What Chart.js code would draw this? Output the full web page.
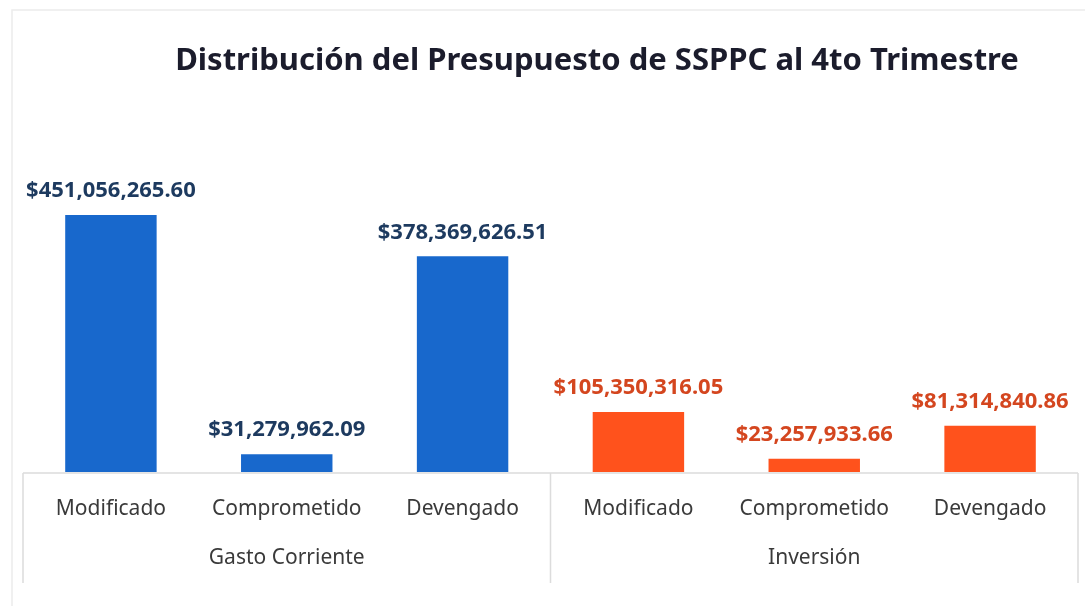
<!DOCTYPE html>
<html lang="es">
<head>
<meta charset="utf-8">
<title>Distribución del Presupuesto de SSPPC</title>
<script src="https://cdn.jsdelivr.net/npm/chart.js@4"></script>
<style>
  html, body { margin: 0; padding: 0; background: #fff; }
  #wrap { width: 1085px; height: 606px; position: relative; }
</style>
</head>
<body>
<div id="wrap"><canvas id="budgetChart"></canvas></div>
<script>
// Datos
const chartTitle = 'Distribución del Presupuesto de SSPPC al 4to Trimestre';
const categories = ['Modificado', 'Comprometido', 'Devengado', 'Modificado', 'Comprometido', 'Devengado'];
const groups = ['Gasto Corriente', 'Inversión'];
const values = [451056265.60, 31279962.09, 378369626.51, 105350316.05, 23257933.66, 81314840.86];
const groupOfBar = [0, 0, 0, 1, 1, 1];

const barColors = ['#1868cc', '#ff521c'];
const labelColors = ['#1d3a5f', '#d4461f'];
const lineColor = '#dcdcdc';

const formatMoney = v => '$' + v.toLocaleString('en-US', { minimumFractionDigits: 2, maximumFractionDigits: 2 });

// Marco tenue alrededor del grafico
const outerFrame = {
  id: 'outerFrame',
  beforeDraw(chart) {
    const ctx = chart.ctx;
    ctx.save();
    ctx.strokeStyle = '#ececec';
    ctx.lineWidth = 1.5;
    ctx.beginPath();
    ctx.moveTo(12, chart.height);
    ctx.lineTo(12, 10);
    ctx.lineTo(chart.width, 10);
    ctx.stroke();
    ctx.restore();
  }
};

// Titulo (desplazado como en el original)
const titlePlugin = {
  id: 'titlePlugin',
  afterDraw(chart) {
    const ctx = chart.ctx;
    ctx.save();
    ctx.font = 'bold 31px "Noto Sans"';
    ctx.fillStyle = '#1b1c2c';
    ctx.textAlign = 'center';
    ctx.textBaseline = 'middle';
    ctx.fillText(chartTitle, 597, 61);
    ctx.restore();
  }
};

// Etiquetas de valor sobre cada barra
const valueLabels = {
  id: 'valueLabels',
  afterDatasetsDraw(chart) {
    const ctx = chart.ctx;
    const meta = chart.getDatasetMeta(0);
    ctx.save();
    ctx.font = 'bold 22px "Noto Sans"';
    ctx.textAlign = 'center';
    ctx.textBaseline = 'bottom';
    meta.data.forEach((bar, i) => {
      ctx.fillStyle = labelColors[groupOfBar[i]];
      ctx.fillText(formatMoney(values[i]), bar.x, bar.y - 13);
    });
    ctx.restore();
  }
};

// Lineas tipo tabla bajo el eje
const tableLines = {
  id: 'tableLines',
  afterDraw(chart) {
    const ctx = chart.ctx;
    const area = chart.chartArea;
    const x = chart.scales.x;
    const bottom = chart.scales.x2.bottom + 13;
    const mid = (x.getPixelForTick(2) + x.getPixelForTick(3)) / 2;
    ctx.save();
    ctx.strokeStyle = lineColor;
    ctx.lineWidth = 1.5;
    ctx.beginPath();
    ctx.moveTo(area.left, area.bottom + 1);
    ctx.lineTo(area.right, area.bottom + 1);
    [area.left, mid, area.right].forEach(px => {
      ctx.moveTo(px, area.bottom + 1);
      ctx.lineTo(px, bottom);
    });
    ctx.stroke();
    ctx.restore();
  }
};

const ctx = document.getElementById('budgetChart').getContext('2d');
new Chart(ctx, {
  type: 'bar',
  data: {
    labels: categories,
    datasets: [{
      data: values,
      backgroundColor: groupOfBar.map(g => barColors[g]),
      borderWidth: 0,
      barPercentage: 0.52,
      categoryPercentage: 1
    }]
  },
  options: {
    responsive: true,
    maintainAspectRatio: false,
    animation: false,
    layout: { padding: { top: 150, left: 23, right: 7, bottom: 36 } },
    plugins: {
      legend: { display: false },
      tooltip: { enabled: false }
    },
    scales: {
      y: { display: false, min: 0, max: 565000000 },
      x: {
        grid: { display: false, drawTicks: false },
        border: { display: false },
        ticks: {
          color: '#3a3a3a',
          font: { family: '"Noto Sans"', size: 21, lineHeight: '54px' },
          padding: 10,
          maxRotation: 0,
          autoSkip: false
        }
      },
      x2: {
        type: 'category',
        labels: groups,
        position: 'bottom',
        offset: true,
        grid: { display: false, drawTicks: false },
        border: { display: false },
        ticks: {
          color: '#3a3a3a',
          font: { family: '"Noto Sans"', size: 21, lineHeight: '20px' },
          padding: 2,
          maxRotation: 0,
          autoSkip: false
        }
      }
    }
  },
  plugins: [outerFrame, titlePlugin, valueLabels, tableLines]
});
</script>
</body>
</html>
